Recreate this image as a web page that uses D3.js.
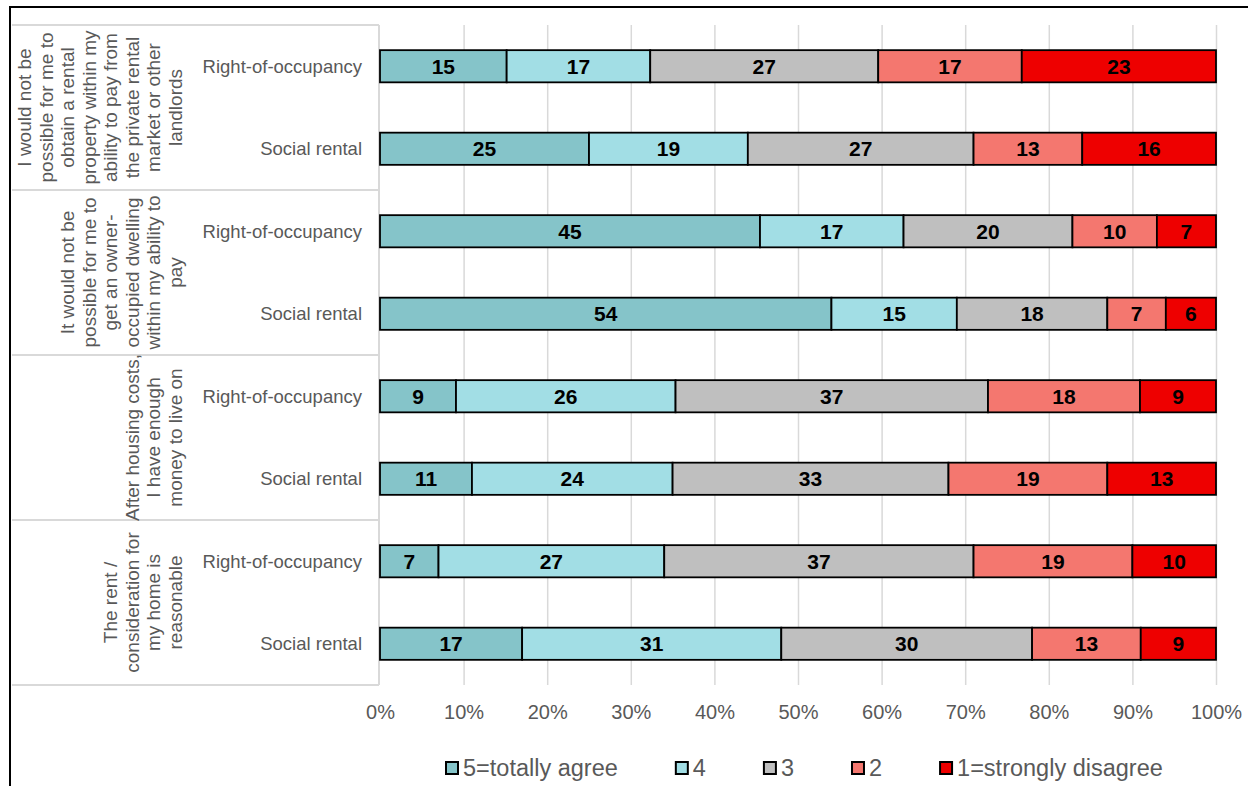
<!DOCTYPE html>
<html lang="en">
<head>
<meta charset="utf-8">
<title>Housing statements</title>
<script src="https://d3js.org/d3.v7.min.js"></script>
<style>
  body { margin: 0; background: #fff; }
  svg text { font-family: "Liberation Sans", Arial, sans-serif; }
</style>
</head>
<body>
<div id="chart"></div>
<script>
// ---- data ----
var statements = [
  ["I would not be", "possible for me to", "obtain a rental", "property within my", "ability to pay from", "the private rental", "market or other", "landlords"],
  ["It would not be", "possible for me to", "get an owner-", "occupied dwelling", "within my ability to", "pay"],
  ["After housing costs,", "I have enough", "money to live on"],
  ["The rent /", "consideration for", "my home is", "reasonable"]
];
var tenures = ["Right-of-occupancy", "Social rental"];
var answers = ["5=totally agree", "4", "3", "2", "1=strongly disagree"];
var colors = ["#85c4c9", "#a2dee5", "#bfbfbf", "#f4776f", "#ee0000"];

// one row per statement x tenure, values in answer order
var v5 = [15, 25, 45, 54, 9, 11, 7, 17];
var v4 = [17, 19, 17, 15, 26, 24, 27, 31];
var v3 = [27, 27, 20, 18, 37, 33, 37, 30];
var v2 = [17, 13, 10, 7, 18, 19, 19, 13];
var v1 = [23, 16, 7, 6, 9, 13, 10, 9];
var ticks = [0, 0.1, 0.2, 0.3, 0.4, 0.5, 0.6, 0.7, 0.8, 0.9, 1];

var rows = [];
statements.forEach(function(s, g) {
  tenures.forEach(function(t, k) {
    var i = g * 2 + k;
    rows.push({ id: "r" + i, group: g, tenure: t,
      a0: v5[i], a1: v4[i], a2: v3[i], a3: v2[i], a4: v1[i] });
  });
});

var width = 1248, height = 786;
var plot = { left: 380, right: 1216, top: 25, bottom: 685 };

var svg = d3.select("#chart").append("svg")
  .attr("width", width)
  .attr("height", height);

// outer frame (runs off the right and bottom)
svg.append("rect")
  .attr("x", 10).attr("y", 7)
  .attr("width", 1300).attr("height", 900)
  .attr("fill", "none")
  .attr("stroke", "#000")
  .attr("stroke-width", 2);

var x = d3.scaleLinear().domain([0, 1]).range([plot.left, plot.right]);
var y = d3.scaleBand()
  .domain(rows.map(d => d.id))
  .range([plot.top, plot.bottom])
  .paddingInner(0.61)
  .paddingOuter(0.305);
var yGroup = d3.scaleBand()
  .domain(d3.range(statements.length))
  .range([plot.top, plot.bottom]);

// gridlines
svg.append("g")
  .attr("transform", `translate(0,${plot.bottom})`)
  .call(d3.axisBottom(x).tickValues(ticks.slice(1)).tickSize(-(plot.bottom - plot.top)).tickFormat(""))
  .call(g => g.select(".domain").remove())
  .call(g => g.selectAll("line").attr("stroke", "#d9d9d9").attr("stroke-width", 1.5));

// tick labels
svg.append("g")
  .attr("transform", `translate(0,${plot.bottom})`)
  .call(d3.axisBottom(x).tickValues(ticks).tickSize(0).tickPadding(20).tickFormat(d3.format(".0%")))
  .call(g => g.select(".domain").remove())
  .call(g => g.selectAll("text")
    .attr("fill", "#595959")
    .style("font-size", "20px")
    .style("font-family", "'Liberation Sans', Arial, sans-serif"));

// statement boxes
var boxLeft = 12, boxRight = 379;
yGroup.domain().concat([statements.length]).forEach(function(g) {
  var yy = g < statements.length ? yGroup(g) : plot.bottom;
  svg.append("line")
    .attr("x1", boxLeft).attr("x2", boxRight)
    .attr("y1", yy).attr("y2", yy)
    .attr("stroke", "#d9d9d9").attr("stroke-width", 2);
});
svg.append("line")
  .attr("x1", boxRight).attr("x2", boxRight)
  .attr("y1", plot.top).attr("y2", plot.bottom)
  .attr("stroke", "#d9d9d9").attr("stroke-width", 2);

// rotated statement labels
var lineStep = 21.5, lastLineX = 175;
statements.forEach(function(lines, g) {
  var cy = yGroup(g) + yGroup.bandwidth() / 2;
  lines.forEach(function(txt, i) {
    var lx = lastLineX - (lines.length - 1 - i) * lineStep;
    svg.append("text")
      .attr("transform", `translate(${lx},${cy}) rotate(-90)`)
      .attr("text-anchor", "middle")
      .attr("dy", "0.35em")
      .attr("fill", "#595959")
      .style("font-size", "19px")
      .text(txt);
  });
});

// tenure labels
svg.selectAll("text.tenure")
  .data(rows)
  .enter()
  .append("text")
  .attr("class", "tenure")
  .attr("x", 362)
  .attr("y", d => y(d.id) + y.bandwidth() / 2)
  .attr("dy", "0.35em")
  .attr("text-anchor", "end")
  .attr("fill", "#595959")
  .style("font-size", "18.5px")
  .text(d => d.tenure);

// stacked bars, each row scaled to 100%
var keys = ["a0", "a1", "a2", "a3", "a4"];
var stacked = d3.stack().keys(keys).offset(d3.stackOffsetExpand)(rows);

var layers = svg.selectAll("g.layer")
  .data(stacked)
  .enter()
  .append("g")
  .attr("class", "layer")
  .attr("fill", (d, i) => colors[i]);

layers.selectAll("rect")
  .data(d => d)
  .enter()
  .append("rect")
  .attr("x", d => x(d[0]))
  .attr("y", d => y(d.data.id))
  .attr("width", d => x(d[1]) - x(d[0]))
  .attr("height", y.bandwidth())
  .attr("stroke", "#000")
  .attr("stroke-width", 1.8);

layers.each(function(layer) {
  d3.select(this).selectAll("text")
    .data(layer)
    .enter()
    .append("text")
    .attr("x", d => (x(d[0]) + x(d[1])) / 2)
    .attr("y", d => y(d.data.id) + y.bandwidth() / 2)
    .attr("dy", "0.36em")
    .attr("text-anchor", "middle")
    .attr("fill", "#000")
    .style("font-size", "21px")
    .style("font-weight", "bold")
    .text(d => d.data[layer.key]);
});

// legend
var legend = svg.append("g");
var lx = 446, swatch = 12, legY = 768;
answers.forEach(function(a, i) {
  legend.append("rect")
    .attr("x", lx).attr("y", legY - swatch / 2)
    .attr("width", swatch).attr("height", swatch)
    .attr("fill", colors[i])
    .attr("stroke", "#000").attr("stroke-width", 2);
  var t = legend.append("text")
    .attr("x", lx + swatch + 5)
    .attr("y", legY)
    .attr("dy", "0.36em")
    .attr("fill", "#595959")
    .style("font-size", "23.5px")
    .text(a);
  lx += swatch + 5 + t.node().getComputedTextLength() + 58;
});
</script>
</body>
</html>
